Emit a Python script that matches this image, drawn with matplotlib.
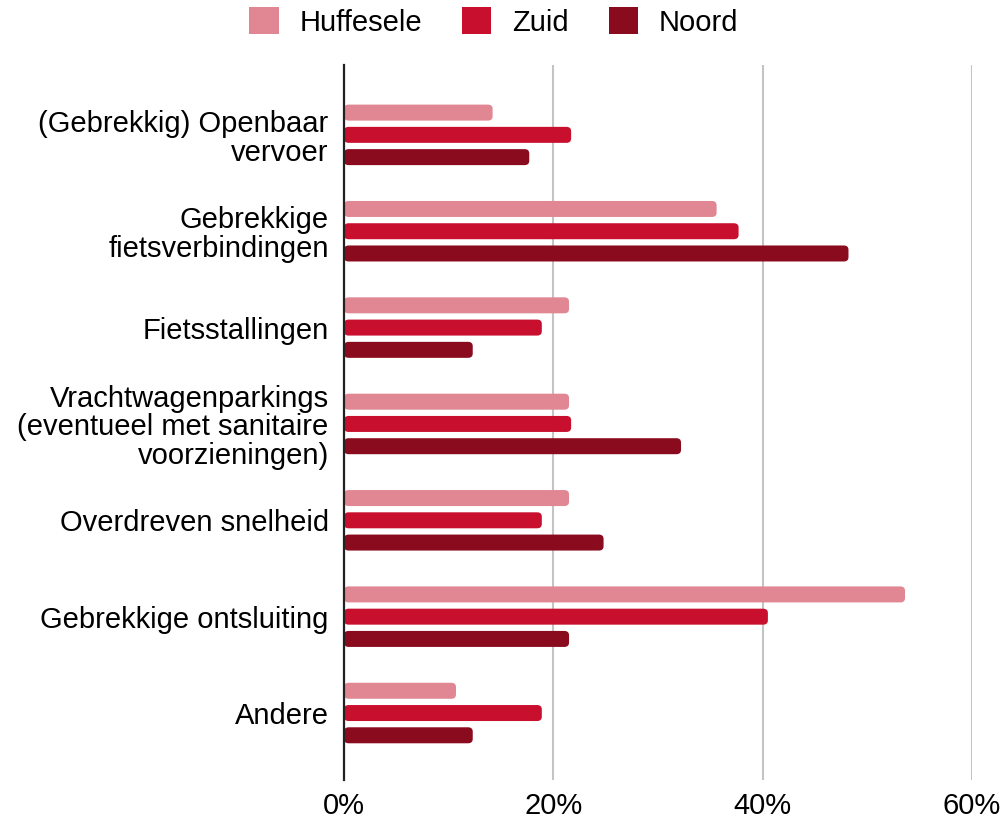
import matplotlib
matplotlib.use("Agg")
import matplotlib.pyplot as plt
from matplotlib.patches import FancyBboxPatch, Patch
import numpy as np

plt.rcParams['font.family'] = ['Liberation Sans', 'DejaVu Sans']

categories = [
    "(Gebrekkig) Openbaar\nvervoer",
    "Gebrekkige\nfietsverbindingen",
    "Fietsstallingen",
    "Vrachtwagenparkings\n(eventueel met sanitaire\nvoorzieningen)",
    "Overdreven snelheid",
    "Gebrekkige ontsluiting",
    "Andere",
]
series_names = ["Huffesele", "Zuid", "Noord"]
huffesele = [14.2, 35.6, 21.5, 21.5, 21.5, 53.6, 10.7]
zuid = [21.7, 37.7, 18.9, 21.7, 18.9, 40.5, 18.9]
noord = [17.7, 48.2, 12.3, 32.2, 24.8, 21.5, 12.3]
x_ticks = [0, 20, 40, 60]
x_tick_labels = ["0%", "20%", "40%", "60%"]

colors = ["#e08793", "#c8102e", "#8a0b1e"]
values = [huffesele, zuid, noord]

fig = plt.figure(figsize=(10.07, 8.19), dpi=100)
ax = fig.add_axes([344 / 1007, 1 - 780 / 819, (972 - 344) / 1007, (780 - 65) / 819])

y = np.arange(len(categories))
bar_h = 0.166
step = 0.231
offsets = [-step, 0, step]

for vals, off, col, name in zip(values, offsets, colors, series_names):
    bars = ax.barh(y + off, vals, height=bar_h, color=col, label=name)
    for b in bars:
        b.set_visible(False)
        x0, y0 = b.get_x(), b.get_y()
        w, h = b.get_width(), b.get_height()
        patch = FancyBboxPatch((x0, y0), w, h,
                               boxstyle="round,pad=0,rounding_size=0.45",
                               mutation_aspect=0.1,
                               facecolor=col, edgecolor="none", zorder=3)
        ax.add_patch(patch)

ax.set_xlim(0, 60)
ax.set_ylim(len(categories) - 1 + 0.695, -0.725)
ax.set_yticks(y)
ax.set_yticklabels(categories, fontsize=21, linespacing=1.04)
ax.set_xticks(x_ticks)
ax.set_xticklabels(x_tick_labels, fontsize=21)
ax.tick_params(axis='y', length=0, pad=11)
ax.tick_params(axis='x', length=0, pad=9)

ax.grid(axis='x', color="#c4c4c4", linewidth=1.5, zorder=0)
ax.set_axisbelow(True)
for s in ["top", "right", "bottom"]:
    ax.spines[s].set_visible(False)
ax.spines["left"].set_color("#222222")
ax.spines["left"].set_linewidth(1.6)
ax.spines["left"].set_zorder(4)

handles = [Patch(facecolor=c, edgecolor="none") for c in colors]
fig.legend(handles, series_names, loc="center", bbox_to_anchor=(494 / 1007, 1 - 22 / 819),
           ncol=3, frameon=False, fontsize=21, handlelength=1.0, handleheight=1.0,
           columnspacing=1.37, handletextpad=0.72, borderpad=0, borderaxespad=0)

fig.savefig("out.png", dpi=100, facecolor="white")
